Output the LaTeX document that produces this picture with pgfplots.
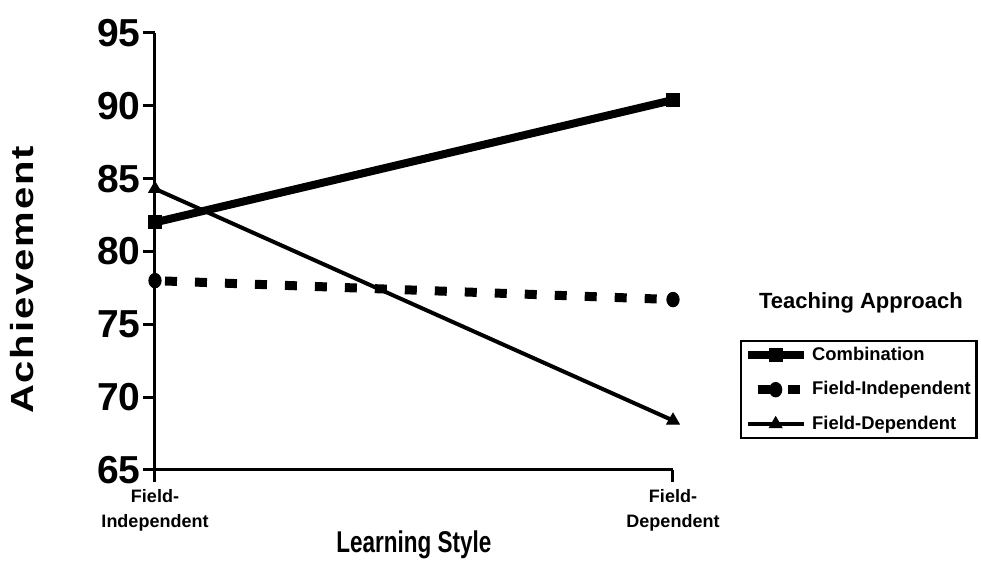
\documentclass[border=0pt]{standalone}
\usepackage{pgfplots}
\pgfplotsset{compat=1.18}
\usepackage{fontspec}
\setmainfont{Liberation Sans}
\newfontfamily\narrowfont[FakeStretch=0.75]{Liberation Sans}
\newfontfamily\widefont[FakeStretch=1.25, LetterSpace=6]{Liberation Sans}

\begin{document}
\begin{tikzpicture}
\useasboundingbox (-77.5pt,-46pt) rectangle (413pt,235pt);
\begin{axis}[
  at={(0,0)}, anchor=south west,
  scale only axis, width=259pt, height=218.5pt,
  xmin=0, xmax=1, ymin=65, ymax=95,
  axis lines=left,
  axis line style={-, line width=1.5pt, black},
  clip=false,
  /pgf/number format/assume math mode=true,
  xtick={0,1},
  xticklabels={{Field-\\Independent},{Field-\\Dependent}},
  xticklabel style={align=center, font=\bfseries\fontsize{9}{12.5}\selectfont},
  ytick={65,70,...,95},
  yticklabel style={font=\bfseries\fontsize{19.5}{21}\selectfont, inner sep=1pt},
  tick align=outside, major tick length=6pt,
  tick style={line width=1.5pt, black},
  xlabel={\narrowfont\bfseries\fontsize{15}{17}\selectfont Learning Style},
  xlabel style={at={(axis description cs:0.5,0)}, anchor=center, yshift=-37.5pt},
  ylabel={\widefont\bfseries\fontsize{16}{18}\selectfont Achievement},
  ylabel style={at={(axis description cs:-0.2568,0.435)}, anchor=center},
  legend style={at={(axis description cs:1.1293,0.2975)}, anchor=north west,
    draw=black, line width=1.2pt, inner sep=1pt,
    font=\bfseries\fontsize{9.2}{11}\selectfont,
    row sep=5pt},
  legend cell align=left,
  legend image code/.code={%
    \draw[mark repeat=2, mark phase=2, #1] plot coordinates {(0pt,0pt) (14pt,0pt) (28pt,0pt)};},
]
\addplot[black, line width=4pt, mark=square*, mark size=3.2pt, mark options={solid, line width=0.5pt}]
  coordinates {(0,82.0) (1,90.4)};
\addlegendentry{Combination}
\addplot[black, line width=4.5pt, line cap=butt, dash pattern=on 6pt off 9pt, dash phase=10pt,
  mark=*, mark size=3.6pt, mark options={solid, xscale=0.85, line width=0.5pt}]
  coordinates {(0,78.0) (1,76.7)};
\addlegendentry{Field-Independent}
\addplot[black, line width=2pt, mark=triangle*, mark size=3.6pt, mark options={solid, line width=0.5pt}]
  coordinates {(0,84.3) (1,68.4)};
\addlegendentry{Field-Dependent}
\node[anchor=west, font=\bfseries\fontsize{11}{13}\selectfont] at (axis description cs:1.1525,0.382) {Teaching Approach};
\end{axis}
\end{tikzpicture}
\end{document}
